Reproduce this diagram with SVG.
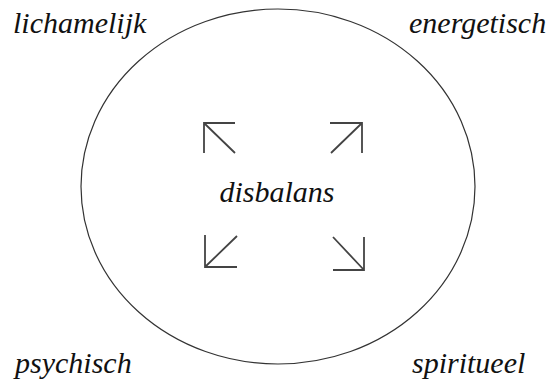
<svg xmlns="http://www.w3.org/2000/svg" width="549" height="382" viewBox="0 0 549 382">
<style>
.lbl{font-family:'Liberation Serif','DejaVu Serif',serif;font-style:italic;font-size:30px;fill:#111}
.arr{fill:none;stroke:#444;stroke-width:1.8;stroke-linecap:butt}
</style>
<rect width="549" height="382" fill="#fff"/>
<g id="circle">
<ellipse cx="278" cy="186.5" rx="197" ry="177.5" fill="none" stroke="#333" stroke-width="1.2"/>
</g>
<g id="labels">
<text class="lbl" x="13" y="33">lichamelijk</text>
<text class="lbl" x="409" y="33">energetisch</text>
<text class="lbl" x="15" y="373">psychisch</text>
<text class="lbl" x="412" y="373">spiritueel</text>
</g>
<g id="center">
<text class="lbl" x="277" y="202" text-anchor="middle">disbalans</text>
</g>
<g id="connectors">
<path class="arr" d="M235,123 H204 V153 M204,123 L235,153"/>
<path class="arr" d="M330,123 H362 V153 M362,123 L331,153"/>
<path class="arr" d="M205,235 V267 H237 M205,267 L237,236"/>
<path class="arr" d="M364,237 V270 H333 M364,270 L333,237"/>
</g>
</svg>
